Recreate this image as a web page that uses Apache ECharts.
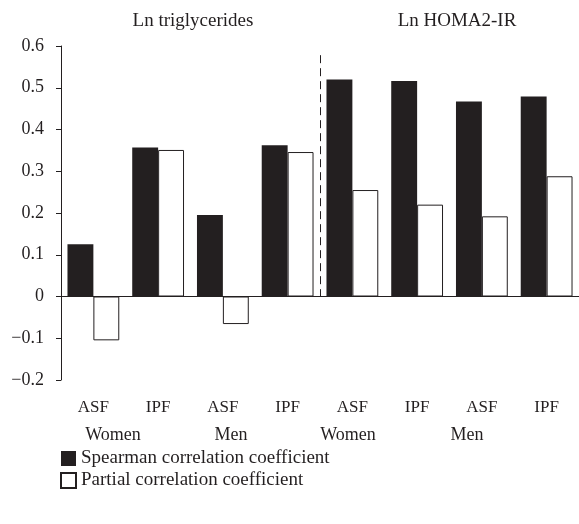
<!DOCTYPE html>
<html>
<head>
<meta charset="utf-8">
<script src="https://cdn.jsdelivr.net/npm/echarts@6/dist/echarts.min.js"></script>
<style>
  html, body { margin: 0; padding: 0; background: #fff; }
  #chart { width: 579px; height: 524px; }
</style>
</head>
<body>
<div id="chart"></div>
<script>
  // bar categories (lower label row)
  const categories = ['ASF', 'IPF', 'ASF', 'IPF', 'ASF', 'IPF', 'ASF', 'IPF']
  // sex groups and outcome headers
  const groups = ['Women', 'Men', 'Women', 'Men']
  const outcomes = ['Ln triglycerides', 'Ln HOMA2-IR']
  const seriesNames = ['Spearman correlation coefficient', 'Partial correlation coefficient']
  const spearman = [0.125, 0.357, 0.195, 0.362, 0.52, 0.516, 0.467, 0.479]
  const partial = [-0.105, 0.351, -0.066, 0.346, 0.255, 0.22, 0.192, 0.288]

  const ink = '#231f20'
  const font = 'Liberation Serif'

  let myChart = echarts.init(document.getElementById('chart'))
  let options = {
    animation: false,
    textStyle: { fontFamily: font, color: ink },
    title: [{
      text: outcomes[0],
      left: 188, top: 7,
      textAlign: 'center',
      textStyle: { fontFamily: font, fontSize: 19, fontWeight: 'normal', color: ink }
    }, {
      text: outcomes[1],
      left: 452, top: 7,
      textAlign: 'center',
      textStyle: { fontFamily: font, fontSize: 19, fontWeight: 'normal', color: ink }
    }],
    legend: {
      orient: 'vertical',
      left: 55, top: 444,
      itemWidth: 15, itemHeight: 15,
      itemGap: 3,
      icon: 'rect',
      textStyle: { fontFamily: font, fontSize: 19, color: ink },
      data: seriesNames
    },
    grid: { left: 61, top: 46, width: 522, height: 334 },
    xAxis: {
      type: 'category',
      data: categories,
      axisLine: { show: false, onZero: false },
      axisTick: { show: false },
      axisLabel: { margin: 19, fontFamily: font, fontSize: 17, color: ink }
    },
    yAxis: {
      type: 'value',
      min: -0.2, max: 0.6, interval: 0.1,
      axisLine: { show: true, lineStyle: { color: ink, width: 1 } },
      axisTick: { show: true, length: 5, lineStyle: { color: ink } },
      splitLine: { show: false },
      axisLabel: {
        margin: 17,
        fontFamily: font, fontSize: 18, color: ink,
        formatter: function (v) {
          let s = Math.abs(v) < 1e-9 ? '0' : v.toFixed(1)
          return s.replace('-', '\u2212')
        }
      }
    },
    series: [{
      name: seriesNames[0],
      type: 'bar',
      barGap: '0%',
      barCategoryGap: '20%',
      itemStyle: { color: ink },
      data: spearman,
      markLine: {
        silent: true,
        symbol: 'none',
        label: { show: false },
        lineStyle: { color: ink, type: 'solid', width: 1 },
        data: [{ yAxis: 0 }]
      }
    }, {
      name: seriesNames[1],
      type: 'bar',
      itemStyle: { color: '#fff', borderColor: ink, borderWidth: 1 },
      data: partial
    }]
  }
  myChart.setOption(options)

  // dashed divider between the two outcomes, and the sex group labels
  let x3 = myChart.convertToPixel({ gridIndex: 0 }, [3, 0])[0]
  let x4 = myChart.convertToPixel({ gridIndex: 0 }, [4, 0])[0]
  let xMid = Math.round((x3 + x4) / 2) + 0.5
  let yTop = myChart.convertToPixel({ gridIndex: 0 }, [0, 0.578])[1]
  let yZero = myChart.convertToPixel({ gridIndex: 0 }, [0, 0])[1]
  let groupX = [113, 231, 348, 467]
  let graphics = [{
    type: 'line',
    shape: { x1: xMid, y1: yTop, x2: xMid, y2: yZero },
    style: { stroke: ink, lineWidth: 1, lineDash: [8, 5] },
    silent: true
  }]
  groups.forEach((g, i) => {
    graphics.push({
      type: 'text',
      x: groupX[i], y: 435,
      style: {
        text: g, fill: ink, font: '18px "' + font + '"',
        align: 'center', verticalAlign: 'middle'
      },
      silent: true
    })
  })
  myChart.setOption({ graphic: graphics })
</script>
</body>
</html>
